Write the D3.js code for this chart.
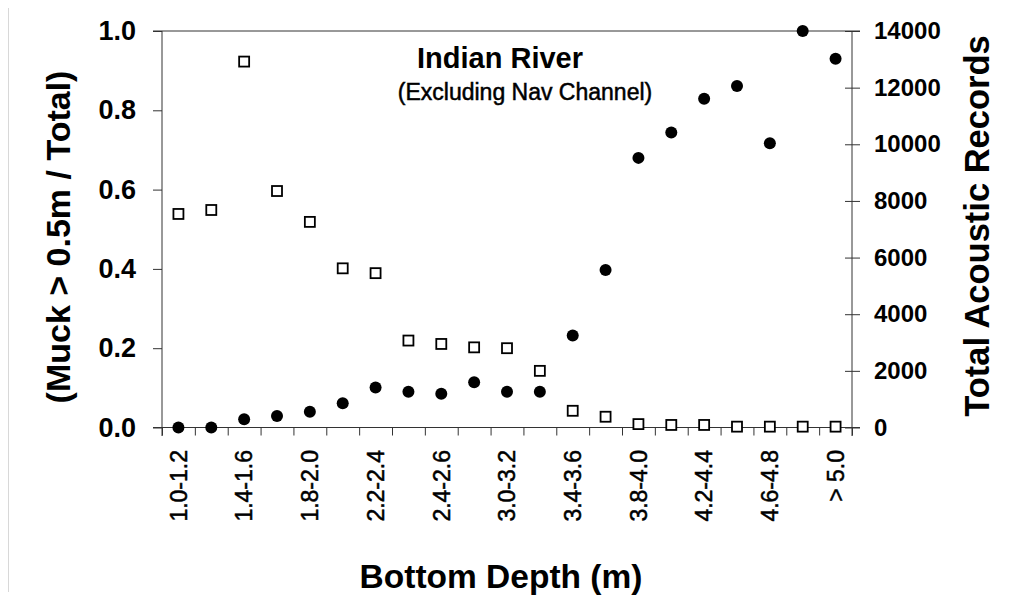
<!DOCTYPE html>
<html>
<head>
<meta charset="utf-8">
<script src="https://cdn.jsdelivr.net/npm/d3@7"></script>
<style>
  body { margin: 0; background: #fff; }
  svg { display: block; font-family: "Liberation Sans", Arial, sans-serif; }
</style>
</head>
<body>
<script>
// depth bins (m)
var categories = ["1.0-1.2","1.2-1.4","1.4-1.6","1.6-1.8","1.8-2.0","2.0-2.2","2.2-2.4",
  "2.4-2.6","2.6-2.8","2.8-3.0","3.0-3.2","3.2-3.4","3.4-3.6","3.6-3.8","3.8-4.0",
  "4.0-4.2","4.2-4.4","4.4-4.6","4.6-4.8","4.8-5.0","> 5.0"];
// labels as printed under the axis (every other bin)
var tickLabels = ["1.0-1.2","","1.4-1.6","","1.8-2.0","","2.2-2.4","","2.4-2.6","",
  "3.0-3.2","","3.4-3.6","","3.8-4.0","","4.2-4.4","","4.6-4.8","","> 5.0"];
// filled circles, left axis
var muckFraction = [0.0, 0.0, 0.021, 0.029, 0.040, 0.061, 0.101, 0.090, 0.085, 0.114,
  0.090, 0.090, 0.232, 0.397, 0.680, 0.744, 0.829, 0.861, 0.717, 1.0, 0.930];
// open squares, right axis
var totalRecords = [7540, 7680, 12920, 8350, 7260, 5620, 5450, 3070, 2950, 2830,
  2800, 2000, 590, 380, 120, 90, 90, 30, 30, 30, 30];
var leftTicks = [0, 0.2, 0.4, 0.6, 0.8, 1.0];
var rightTicks = [0, 2000, 4000, 6000, 8000, 10000, 12000, 14000];

var width = 1019, height = 599;
var x0 = 162, x1 = 852, yTop = 31, yBot = 427.5;

var svg = d3.select("body").append("svg")
    .attr("width", width)
    .attr("height", height);

// faint border line at the left edge of the original picture
svg.append("line")
    .attr("x1", 8.5).attr("x2", 8.5).attr("y1", 8).attr("y2", 592)
    .attr("stroke", "#d8d8d8").attr("stroke-width", 1);

var xBand = d3.scaleBand().domain(categories).range([x0, x1]);
var xEdge = d3.scaleLinear().domain([0, categories.length]).range([x0, x1]);
var yLeft = d3.scaleLinear().domain([0, 1]).range([yBot, yTop]);
var yRight = d3.scaleLinear().domain([0, 14000]).range([yBot, yTop]);
var cx = function(i){ return xBand(categories[i]) + xBand.bandwidth() / 2; };

var axisColor = "#333";

// frame lines
svg.append("line").attr("x1", 153).attr("x2", 860).attr("y1", yTop).attr("y2", yTop)
    .attr("stroke", axisColor);
svg.append("line").attr("x1", x0).attr("x2", x0).attr("y1", yTop).attr("y2", 436)
    .attr("stroke", axisColor);
svg.append("line").attr("x1", x1).attr("x2", x1).attr("y1", yTop).attr("y2", 436)
    .attr("stroke", axisColor);

// left axis
var gl = svg.append("g").attr("transform", "translate(" + x0 + ",0)")
    .call(d3.axisLeft(yLeft).tickValues(leftTicks).tickSize(9).tickPadding(17)
        .tickFormat(d3.format(".1f")));
gl.select(".domain").remove();
gl.selectAll("line").attr("stroke", axisColor);
gl.selectAll("text").attr("font-size", 27).attr("font-weight", "bold")
    .attr("font-family", "Liberation Sans, Arial, sans-serif").attr("fill", "#000");

// right axis (ticks cross the line)
var gr = svg.append("g").attr("transform", "translate(" + (x1 - 7) + ",0)")
    .call(d3.axisRight(yRight).tickValues(rightTicks).tickSize(15).tickPadding(14)
        .tickFormat(d3.format("d")));
gr.select(".domain").remove();
gr.selectAll("line").attr("stroke", axisColor);
gr.selectAll("text").attr("font-size", 24).attr("font-weight", "bold")
    .attr("font-family", "Liberation Sans, Arial, sans-serif").attr("fill", "#000");

// bottom axis: ticks at bin edges
var gb = svg.append("g").attr("transform", "translate(0," + yBot + ")")
    .call(d3.axisBottom(xEdge).tickValues(d3.range(categories.length + 1))
        .tickSize(8).tickFormat(""));
gb.select(".domain").attr("stroke", axisColor).attr("d", "M153,0H860");
gb.selectAll("line").attr("stroke", axisColor);

// bottom labels, rotated
var gt = svg.append("g").attr("transform", "translate(0,450)")
    .call(d3.axisBottom(xBand).tickSize(0).tickFormat(function(d, i){ return tickLabels[i]; }));
gt.select(".domain").remove();
gt.selectAll("text")
    .attr("transform", "rotate(-90)")
    .attr("x", 0).attr("y", 0).attr("dy", "0.36em")
    .attr("text-anchor", "end")
    .attr("font-size", 23)
    .attr("stroke", "#000").attr("stroke-width", 0.5)
    .attr("font-family", "Liberation Sans, Arial, sans-serif").attr("fill", "#000");

// squares: total records
svg.selectAll("rect.rec").data(totalRecords).enter().append("rect")
    .attr("class", "rec")
    .attr("x", function(d, i){ return cx(i) - 5; })
    .attr("y", function(d){ return yRight(d) - 5; })
    .attr("width", 10).attr("height", 10)
    .attr("fill", "#fff").attr("stroke", "#000").attr("stroke-width", 1.8);

// circles: muck fraction
svg.selectAll("circle.muck").data(muckFraction).enter().append("circle")
    .attr("class", "muck")
    .attr("cx", function(d, i){ return cx(i); })
    .attr("cy", function(d){ return yLeft(d); })
    .attr("r", 6)
    .attr("fill", "#000");

// titles
svg.append("text").attr("x", 500).attr("y", 68).attr("text-anchor", "middle")
    .attr("font-size", 29).attr("font-weight", "bold").text("Indian River");
svg.append("text").attr("x", 525).attr("y", 100).attr("text-anchor", "middle")
    .attr("font-size", 23).attr("stroke", "#000").attr("stroke-width", 0.5)
    .text("(Excluding Nav Channel)");

svg.append("text").attr("x", 501).attr("y", 588).attr("text-anchor", "middle")
    .attr("font-size", 33.5).attr("font-weight", "bold").text("Bottom Depth (m)");

svg.append("text").attr("transform", "translate(70,237) rotate(-90)")
    .attr("text-anchor", "middle")
    .attr("font-size", 34).attr("font-weight", "bold").text("(Muck > 0.5m / Total)");

svg.append("text").attr("transform", "translate(989,226) rotate(-90)")
    .attr("text-anchor", "middle")
    .attr("font-size", 34.5).attr("font-weight", "bold").text("Total Acoustic Records");
</script>
</body>
</html>
